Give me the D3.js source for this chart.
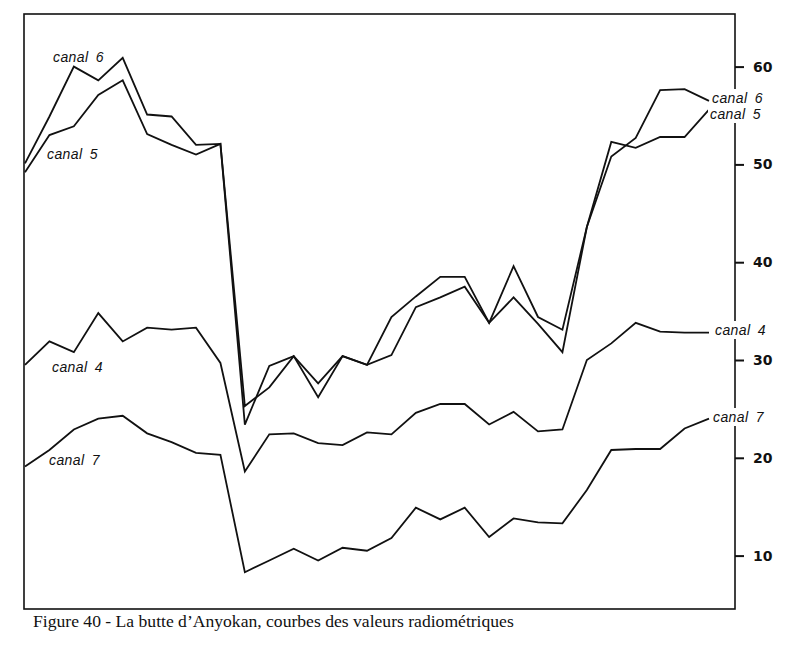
<!DOCTYPE html>
<html>
<head>
<meta charset="utf-8">
<script src="https://cdn.jsdelivr.net/npm/d3@7"></script>
<style>
  html, body { margin: 0; padding: 0; background: #fff; }
  svg { display: block; }
</style>
</head>
<body>
<svg id="chart" width="787" height="656"></svg>
<script>
// ---- data ----
const positions = d3.range(29); // 29 equally spaced samples along the profile
const canal6 = [50.1, 54.9, 60.0, 58.6, 60.9, 55.1, 54.9, 52.0, 52.1, 25.3, 27.2, 30.4, 27.6, 30.4, 29.5, 34.4, 36.5, 38.5, 38.5, 33.8, 39.6, 34.4, 33.1, 43.6, 50.8, 52.7, 57.6, 57.7, 56.5];
const canal5 = [49.2, 53.0, 53.9, 57.1, 58.6, 53.1, 52.0, 51.0, 52.1, 23.4, 29.4, 30.4, 26.2, 30.4, 29.5, 30.5, 35.4, 36.4, 37.5, 33.8, 36.4, 33.7, 30.8, 43.6, 52.3, 51.7, 52.8, 52.8, 55.6];
const canal4 = [29.5, 31.9, 30.8, 34.8, 31.9, 33.3, 33.1, 33.3, 29.7, 18.6, 22.4, 22.5, 21.5, 21.3, 22.6, 22.4, 24.6, 25.5, 25.5, 23.4, 24.7, 22.7, 22.9, 30.0, 31.7, 33.8, 32.9, 32.8, 32.8];
const canal7 = [19.1, 20.8, 22.9, 24.0, 24.3, 22.5, 21.6, 20.5, 20.3, 8.3, 9.5, 10.7, 9.5, 10.8, 10.5, 11.8, 14.9, 13.7, 14.9, 11.9, 13.8, 13.4, 13.3, 16.7, 20.8, 20.9, 20.9, 23.0, 24.0];
const seriesNames = ["canal 6", "canal 5", "canal 4", "canal 7"];
const tickValues = [10, 20, 30, 40, 50, 60];
const caption = "Figure 40 - La butte d\u2019Anyokan, courbes des valeurs radiométriques";

// ---- layout ----
const svg = d3.select("#chart");
const frame = { left: 24, right: 735, top: 14, bottom: 609 };

const x = d3.scaleLinear().domain([0, 28]).range([25, 709]);
const y = d3.scaleLinear().domain([10, 60]).range([555.6, 66.6]);

const seriesData = [canal6, canal5, canal4, canal7];

// frame
svg.append("rect")
  .attr("x", frame.left).attr("y", frame.top)
  .attr("width", frame.right - frame.left).attr("height", frame.bottom - frame.top)
  .attr("fill", "none").attr("stroke", "#111").attr("stroke-width", 1.6);

// right axis
const axis = d3.axisRight(y).tickValues(tickValues).tickSize(9).tickPadding(9).tickFormat(d3.format("d"));
const ag = svg.append("g").attr("transform", `translate(${frame.right},0)`).call(axis);
ag.select(".domain").remove();
ag.selectAll(".tick line").attr("stroke", "#111").attr("stroke-width", 2);
ag.selectAll(".tick text")
  .attr("fill", "#111")
  .style("font-family", "'DejaVu Sans', sans-serif")
  .style("font-weight", "bold")
  .style("font-size", "14px");

// lines
const line = d3.line().x((d, i) => x(positions[i])).y(d => y(d));
svg.append("g").selectAll("path").data(seriesData).join("path")
  .attr("d", d => line(d))
  .attr("fill", "none")
  .attr("stroke", "#111")
  .attr("stroke-width", 1.8)
  .attr("stroke-linejoin", "miter");

// labels
const labelStyle = sel => sel
  .style("font-family", "'Liberation Sans', Arial, sans-serif")
  .style("font-style", "italic")
  .style("font-size", "14px")
  .style("letter-spacing", "0.4px")
  .style("word-spacing", "3px")
  .attr("fill", "#111");

const leftLabels = [
  { name: seriesNames[0], x: 53, y: 62 },
  { name: seriesNames[1], x: 47, y: 159 },
  { name: seriesNames[2], x: 52, y: 372 },
  { name: seriesNames[3], x: 49, y: 465 }
];
const rightLabels = [
  { name: seriesNames[0], x: 712, y: 103 },
  { name: seriesNames[1], x: 710, y: 119 },
  { name: seriesNames[2], x: 715, y: 335 },
  { name: seriesNames[3], x: 713, y: 422 }
];

svg.append("g").selectAll("text").data(leftLabels).join("text")
  .attr("x", d => d.x).attr("y", d => d.y).text(d => d.name).call(labelStyle);

const rg = svg.append("g");
rightLabels.forEach(d => {
  const t = rg.append("text").attr("x", d.x).attr("y", d.y).text(d.name).call(labelStyle);
  const bb = t.node().getBBox();
  rg.insert("rect", "text")
    .attr("x", bb.x - 2).attr("y", bb.y - 1)
    .attr("width", bb.width + 4).attr("height", bb.height + 2)
    .attr("fill", "#fff");
});

// caption
svg.append("text")
  .attr("x", 33).attr("y", 627)
  .text(caption)
  .style("font-family", "'Liberation Serif', 'Times New Roman', serif")
  .style("font-size", "17.6px")
  .attr("fill", "#111");
</script>
</body>
</html>
